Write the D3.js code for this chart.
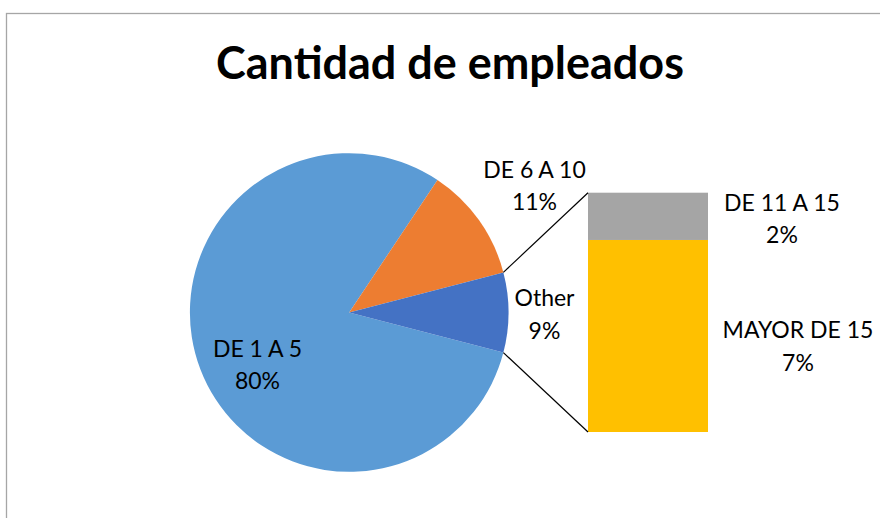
<!DOCTYPE html>
<html><head><meta charset="utf-8">
<script src="https://cdn.jsdelivr.net/npm/d3@7"></script>
<style>
body{margin:0;background:#fff}
svg{display:block}
text{font-family:Lato,"Open Sans",sans-serif;fill:#000}
</style></head>
<body><svg id="c" width="880" height="518"></svg>
<script>
// ---- data ----
const chartTitle = "Cantidad de empleados";
const pieCategories = ["DE 1 A 5", "DE 6 A 10", "Other"];
const pieMainValues = [80.3, 11.6];            // first two slices (percent)
const pieLabels = ["80%", "11%", "9%"];
const barCategories = ["MAYOR DE 15", "DE 11 A 15"]; // bottom to top
const barValues = [6.5, 1.6];
const barLabels = ["7%", "2%"];
const pieColors = ["#5B9BD5", "#ED7D31", "#4472C4"];
const barColors = ["#FFC000", "#A5A5A5"];

// ---- layout ----
const svg = d3.select("#c");
const cx = 349.2, cy = 312.5, r = 159.3;
const barX0 = 588, barX1 = 708, barTop = 192.7, barBottom = 432;

// frame
svg.append("rect").attr("x", 6.5).attr("y", 13.5).attr("width", 900).attr("height", 600)
  .attr("fill", "#fff").attr("stroke", "#A6A6A6").attr("stroke-width", 1.3);

// title, fitted to reference width
const t = svg.append("text").attr("x", 450).attr("y", 79).attr("text-anchor", "middle")
  .attr("font-weight", "bold").attr("font-size", 40).text(chartTitle);
const tw = t.node().getComputedTextLength();
t.attr("font-size", 40 * 468 / tw);

// pie
const otherTotal = d3.sum(barValues);
const pieValues = [...pieMainValues, otherTotal];
const total = d3.sum(pieValues);
const otherAngle = 2 * Math.PI * otherTotal / total;
const start = Math.PI / 2 + otherAngle / 2;
const arcs = d3.pie().sort(null).startAngle(start).endAngle(start + 2 * Math.PI)(pieValues);
const arc = d3.arc().innerRadius(0).outerRadius(r);
const g = svg.append("g").attr("transform", `translate(${cx},${cy})`);
g.selectAll("path").data(arcs).join("path")
  .attr("d", arc).attr("fill", (d, i) => pieColors[i]);

// bar (stacked)
const y = d3.scaleLinear().domain([0, otherTotal]).range([barBottom, barTop]);
const x = d3.scaleBand().domain(["Other"]).range([barX0, barX1]);
const stack = d3.stack().keys(barCategories)([Object.fromEntries(barCategories.map((c, i) => [c, barValues[i]]))]);
svg.selectAll("rect.bar").data(stack).join("rect").attr("class", "bar")
  .attr("x", x("Other")).attr("width", x.bandwidth())
  .attr("y", d => y(d[0][1])).attr("height", d => y(d[0][0]) - y(d[0][1]))
  .attr("fill", (d, i) => barColors[i]);

// connector lines
const oa = arcs[2];
const pt = a => [cx + r * Math.sin(a), cy - r * Math.cos(a)];
const p1 = pt(oa.startAngle), p2 = pt(oa.endAngle);
svg.append("line").attr("x1", p1[0]).attr("y1", p1[1]).attr("x2", x("Other")).attr("y2", y(otherTotal))
  .attr("stroke", "#000").attr("stroke-width", 1.2);
svg.append("line").attr("x1", p2[0]).attr("y1", p2[1]).attr("x2", x("Other")).attr("y2", y(0))
  .attr("stroke", "#000").attr("stroke-width", 1.2);

// labels
function label(xc, yb, l1, l2) {
  const tx = svg.append("text").attr("text-anchor", "middle").attr("font-size", 23);
  tx.append("tspan").attr("x", xc).attr("y", yb).text(l1);
  tx.append("tspan").attr("x", xc).attr("y", yb + 32.5).text(l2);
}
label(257.5, 356.7, pieCategories[0], pieLabels[0]);
label(534.5, 177.7, pieCategories[1], pieLabels[1]);
label(544.5, 306, pieCategories[2], pieLabels[2]);
label(782, 210.7, barCategories[1], barLabels[1]);
label(798, 338, barCategories[0], barLabels[0]);
</script></body></html>
